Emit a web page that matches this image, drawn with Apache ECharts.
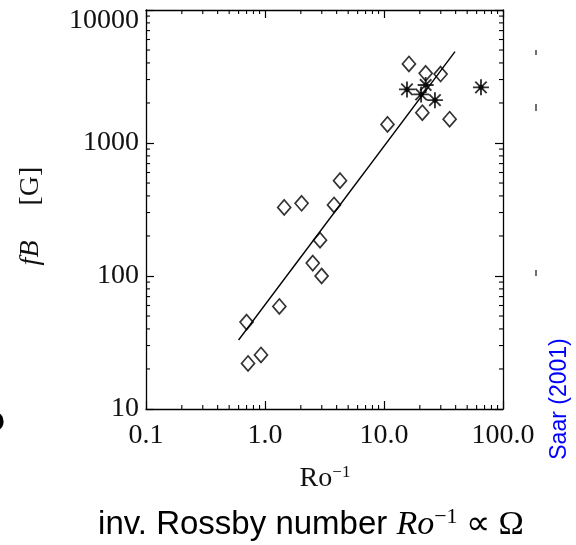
<!DOCTYPE html>
<html>
<head>
<meta charset="utf-8">
<script src="https://cdn.jsdelivr.net/npm/echarts@6/dist/echarts.min.js"></script>
<style>
  html, body { margin: 0; padding: 0; background: #fff; }
  #chart { width: 576px; height: 545px; }
</style>
</head>
<body>
<div id="chart"></div>
<script>
// Magnetic flux density fB versus inverse Rossby number (log-log)
const xTickLabels = ['0.1', '1.0', '10.0', '100.0'];
const yTickLabels = ['10', '100', '1000', '10000'];

// diamonds
const diamondRo = [0.70, 0.72, 0.925, 1.32, 1.45, 2.03, 2.52, 2.99, 2.90, 3.80, 4.27, 10.7, 16.2, 22.4, 29.9, 21.0, 35.6];
const diamondFB = [45, 22, 25.5, 59, 328, 352, 125, 100, 186, 342, 521, 1380, 3930, 3340, 3300, 1690, 1510];

// asterisks
const starRo = [15.6, 22.4, 20.5, 26.8, 65.3];
const starFB = [2530, 2730, 2320, 2100, 2620];

// power-law fit endpoints
const fitRo = [0.6, 39.5];
const fitFB = [33, 4860];

// minor tick values
const minorX = [0.2, 0.3, 0.4, 0.5, 0.6, 0.7, 0.8, 0.9, 2, 3, 4, 5, 6, 7, 8, 9, 20, 30, 40, 50, 60, 70, 80, 90];
const minorY = [20, 30, 40, 50, 60, 70, 80, 90, 200, 300, 400, 500, 600, 700, 800, 900, 2000, 3000, 4000, 5000, 6000, 7000, 8000, 9000];

const SERIF = '"Liberation Serif", "Times New Roman", serif';
const SANS = '"Liberation Sans", Arial, sans-serif';
const INK = '#000';

const zip = (a, b) => a.map((v, i) => [v, b[i]]);
const decadeIndex = (v, base) => Math.round(Math.log10(v / base));

const baseAxis = {
  type: 'log',
  logBase: 10,
  axisLine: { show: true, onZero: false, lineStyle: { color: INK, width: 1.3 } },
  axisTick: { show: true, inside: true, length: 8, lineStyle: { color: INK, width: 1.2 } },
  splitLine: { show: false },
  minorTick: { show: false },
  minorSplitLine: { show: false }
};

const chart = echarts.init(document.getElementById('chart'), null, { renderer: 'canvas' });

chart.setOption({
  animation: false,
  backgroundColor: '#fff',
  grid: { left: 146, right: 73, top: 10, bottom: 136, containLabel: false },
  xAxis: [
    Object.assign({}, baseAxis, {
      position: 'bottom', min: 0.1, max: 100,
      axisLabel: {
        show: true, margin: 13, color: '#111', fontFamily: SERIF, fontSize: 28,
        formatter: v => xTickLabels[decadeIndex(v, 0.1)]
      }
    }),
    Object.assign({}, baseAxis, {
      position: 'top', min: 0.1, max: 100, axisLabel: { show: false }
    })
  ],
  yAxis: [
    Object.assign({}, baseAxis, {
      position: 'left', min: 10, max: 10000,
      axisLabel: {
        show: true, margin: 7, color: '#111', fontFamily: SERIF, fontSize: 28,
        formatter: v => {
          const s = yTickLabels[decadeIndex(v, 10)];
          return v > 5000 ? '{top|' + s + '}' : s;
        },
        rich: {
          top: { fontFamily: SERIF, fontSize: 28, color: '#111', padding: [22, 0, 0, 0] }
        }
      }
    }),
    Object.assign({}, baseAxis, {
      position: 'right', min: 10, max: 10000, axisLabel: { show: false }
    })
  ],
  series: [
    {
      type: 'line',
      data: zip(fitRo, fitFB),
      symbol: 'none',
      lineStyle: { color: INK, width: 1.4 },
      silent: true
    },
    {
      type: 'scatter',
      data: zip(diamondRo, diamondFB),
      symbol: 'diamond',
      symbolSize: [13, 15],
      itemStyle: { color: 'rgba(0,0,0,0)', borderColor: INK, borderWidth: 1.7 }
    },
    {
      type: 'scatter',
      data: zip(starRo, starFB),
      symbol: 'path://M8,0L8,16M0,8L16,8M2.3,2.3L13.7,13.7M2.3,13.7L13.7,2.3',
      symbolSize: 16,
      itemStyle: { color: 'rgba(0,0,0,0)', borderColor: INK, borderWidth: 1.9 }
    },
    {
      // center dots of the asterisks
      type: 'scatter',
      data: zip(starRo, starFB),
      symbol: 'circle',
      symbolSize: 5,
      itemStyle: { color: INK }
    },
    {
      // minor ticks on the bottom and top axes
      type: 'custom',
      data: minorX.map(v => [v, 10]),
      silent: true,
      renderItem: (params, api) => {
        const b = api.coord([api.value(0), 10]);
        const t = api.coord([api.value(0), 10000]);
        const st = { stroke: INK, lineWidth: 1.1 };
        return {
          type: 'group',
          children: [
            { type: 'line', shape: { x1: b[0], y1: b[1], x2: b[0], y2: b[1] - 4 }, style: st },
            { type: 'line', shape: { x1: t[0], y1: t[1], x2: t[0], y2: t[1] + 4 }, style: st }
          ]
        };
      }
    },
    {
      // minor ticks on the left and right axes
      type: 'custom',
      data: minorY.map(v => [0.1, v]),
      silent: true,
      renderItem: (params, api) => {
        const l = api.coord([0.1, api.value(1)]);
        const r = api.coord([100, api.value(1)]);
        const st = { stroke: INK, lineWidth: 1.1 };
        return {
          type: 'group',
          children: [
            { type: 'line', shape: { x1: l[0], y1: l[1], x2: l[0] + 4, y2: l[1] }, style: st },
            { type: 'line', shape: { x1: r[0], y1: r[1], x2: r[0] - 4, y2: r[1] }, style: st }
          ]
        };
      }
    }
  ],
  graphic: [
    {
      // y-axis title
      type: 'text',
      x: 31, y: 216,
      rotation: Math.PI / 2,
      style: {
        text: '{i|fB}{n|     [G]}',
        align: 'center', verticalAlign: 'middle',
        fill: '#111',
        rich: {
          i: { fontFamily: SERIF, fontStyle: 'italic', fontSize: 28, fill: '#111' },
          n: { fontFamily: SERIF, fontSize: 28, fill: '#111' }
        }
      }
    },
    {
      // x-axis title
      type: 'text',
      x: 325, y: 479,
      style: {
        text: '{n|Ro}{s|−1}',
        align: 'center', verticalAlign: 'middle',
        fill: '#111',
        rich: {
          n: { fontFamily: SERIF, fontSize: 28, fill: '#111' },
          s: { fontFamily: SERIF, fontSize: 17, fill: '#111', verticalAlign: 'top', padding: [0, 0, 12, 0] }
        }
      }
    },
    {
      // caption below the axis
      type: 'text',
      x: 311, y: 525,
      style: {
        text: '{a|inv. Rossby number }{i|Ro}{s|−1}{m| ∝ Ω}',
        align: 'center', verticalAlign: 'middle',
        fill: '#000',
        rich: {
          a: { fontFamily: SANS, fontSize: 33, fill: '#000' },
          i: { fontFamily: SERIF, fontStyle: 'italic', fontSize: 34, fill: '#000' },
          s: { fontFamily: SERIF, fontSize: 22, fill: '#000', verticalAlign: 'top', padding: [0, 0, 15, 0] },
          m: { fontFamily: SERIF, fontSize: 34, fill: '#000' }
        }
      }
    },
    {
      // reference tag
      type: 'text',
      x: 560, y: 399,
      rotation: Math.PI / 2,
      style: {
        text: 'Saar (2001)',
        font: '23px ' + SANS,
        fill: '#0000ff',
        align: 'center', verticalAlign: 'middle'
      }
    },
    {
      // neighbouring panel fragment at the left edge
      type: 'text',
      x: -17, y: 423,
      style: { text: 'O', font: 'bold 28px ' + SANS, fill: '#000', verticalAlign: 'middle' }
    },
    {
      type: 'line', shape: { x1: 536, y1: 50, x2: 536, y2: 55 }, style: { stroke: '#222', lineWidth: 1.3 }
    },
    {
      type: 'line', shape: { x1: 536, y1: 104, x2: 536, y2: 111 }, style: { stroke: '#222', lineWidth: 1.3 }
    },
    {
      type: 'line', shape: { x1: 536, y1: 270, x2: 536, y2: 276 }, style: { stroke: '#222', lineWidth: 1.3 }
    }
  ]
});
</script>
</body>
</html>
